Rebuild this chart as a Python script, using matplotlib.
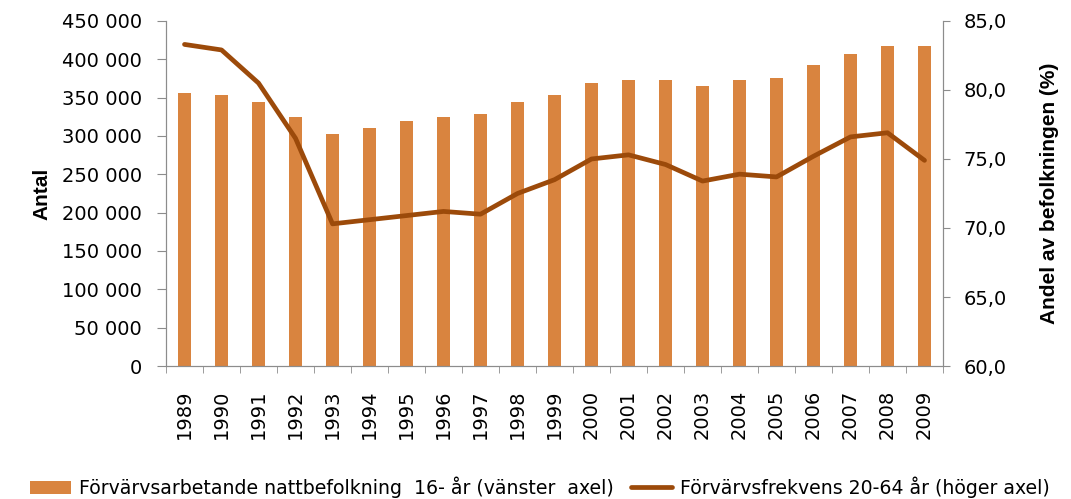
import matplotlib.pyplot as plt
import numpy as np

years = [str(y) for y in range(1989, 2010)]
antal = [356000, 353500, 344000, 325000, 302600, 310000, 320000, 325000, 329000, 344000,
         354000, 368700, 373000, 373000, 365600, 373000, 375700, 392200, 407400, 417000, 417000]
frekvens = [83.3, 82.9, 80.5, 76.5, 70.3, 70.6, 70.9, 71.2, 71.0, 72.5,
            73.5, 75.0, 75.3, 74.6, 73.4, 73.9, 73.7, 75.2, 76.6, 76.9, 74.9]

plt.rcParams['font.family'] = ['DejaVu Sans']

bar_color = '#D9843F'
line_color = '#9C4A0A'
spine_color = '#8C8C8C'

fig = plt.figure(figsize=(10.71, 4.99), dpi=100)
ax = fig.add_axes([0.155, 0.2665, 0.7255, 0.6915])
ax2 = ax.twinx()

x = np.arange(len(years))
bars = ax.bar(x, antal, width=0.34, color=bar_color, zorder=2,
              label='Förvärvsarbetande nattbefolkning  16- år (vänster  axel)')
line, = ax2.plot(x, frekvens, color=line_color, linewidth=3.4, solid_capstyle='round',
                 label='Förvärvsfrekvens 20-64 år (höger axel)')

ax.set_xlim(-0.5, len(years) - 0.5)
ax.set_ylim(0, 450000)
ax2.set_ylim(60, 85)

ax.set_yticks(np.arange(0, 450001, 50000))
ax.set_yticklabels(['0'] + ['{:,}'.format(v).replace(',', ' ') for v in range(50000, 450001, 50000)])
ax2.set_yticks(np.arange(60, 85.1, 5))
ax2.set_yticklabels(['{:.1f}'.format(v).replace('.', ',') for v in np.arange(60, 85.1, 5)])

ax.set_xticks(x)
ax.set_xticklabels(years, rotation=90)
ax.set_xticks(np.arange(-0.5, len(years), 1), minor=True)
ax.tick_params(axis='x', which='major', length=0, pad=17, labelsize=14)
ax.tick_params(axis='x', which='minor', length=5, color=spine_color)

ax.tick_params(axis='y', length=6.5, pad=11, color=spine_color, labelsize=14)
ax2.tick_params(axis='y', length=5, pad=10, color=spine_color, labelsize=14)
for a in (ax, ax2):
    for s in a.spines.values():
        s.set_color(spine_color)
    a.spines['top'].set_visible(False)

ax.set_ylabel('Antal', fontsize=15, fontweight='bold', family='Liberation Sans')
ax.yaxis.set_label_coords(-0.148, 0.5)
ax2.set_ylabel('Andel av befolkningen (%)', fontsize=15, fontweight='bold', family='Liberation Sans')
ax2.yaxis.set_label_coords(1.125, 0.5)

fig.legend(handles=[bars, line], loc='center', bbox_to_anchor=(0.504, 0.024), ncol=2,
           frameon=False, fontsize=13.6, handlelength=2.2, columnspacing=0.9,
           handletextpad=0.4, borderpad=0)

fig.savefig('out.png', dpi=100)
